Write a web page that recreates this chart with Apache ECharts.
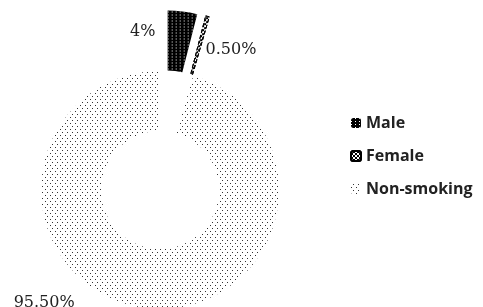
<!DOCTYPE html>
<html>
<head>
<meta charset="utf-8">
<script src="https://cdn.jsdelivr.net/npm/echarts@6/dist/echarts.min.js"></script>
<style>
  html, body { margin: 0; padding: 0; background: #fff; }
  #mychart { width: 483px; height: 307px; }
</style>
</head>
<body>
<div id="mychart"></div>
<script>
// data
const categories = ['Male', 'Female', 'Non-smoking'];
const shares = [4, 0.5, 95.5];
const labelTexts = ['4%', '0.50%', '95.50%'];

// pattern fills, one per slice
const looks = [
  { color: '#000', decal: { symbol: 'rect', symbolSize: 1, color: '#fff', dashArrayX: [1, 3], dashArrayY: [1, 2] } },
  { color: '#fff', decal: { symbol: 'rect', symbolSize: 1, color: '#000', dashArrayX: [[2, 2], [0, 2, 2, 0]], dashArrayY: [2, 0] } },
  { color: '#fff', decal: { symbol: 'rect', symbolSize: 1, color: '#333', dashArrayX: [[1, 4], [0, 2, 1, 2]], dashArrayY: [1, 2] } }
];
// nudges so the labels sit where the original put them
const labelShift = [[-58, 24], [-8, 37], [-63, -9]];

let myChart = echarts.init(document.getElementById('mychart'));

let pieData = categories.map((name, i) => ({
  name: name,
  value: shares[i],
  selected: i < 2,
  itemStyle: Object.assign({}, looks[i], i === 1 ? { borderColor: '#000', borderType: 'dashed', borderWidth: 1 } : {}),
  label: { formatter: labelTexts[i] }
}));

let option = {
  backgroundColor: '#fff',
  animation: false,
  legend: {
    orient: 'vertical',
    left: 345,
    top: 110,
    itemWidth: 10,
    itemHeight: 10,
    itemGap: 17,
    data: categories,
    textStyle: { fontFamily: 'Open Sans', fontSize: 16, fontWeight: 'bold', color: '#222' }
  },
  series: [{
    type: 'pie',
    center: [160, 190],
    radius: [59, 119],
    startAngle: 90,
    selectedMode: 'multiple',
    selectedOffset: 61,
    avoidLabelOverlap: false,
    emphasis: { disabled: true },
    label: {
      show: true,
      position: 'outside',
      fontFamily: 'DejaVu Serif',
      fontSize: 16,
      color: '#222'
    },
    labelLine: { show: false, length: 4, length2: 0 },
    labelLayout: function (params) {
      return { dx: labelShift[params.dataIndex][0], dy: labelShift[params.dataIndex][1] };
    },
    data: pieData
  }]
};

myChart.setOption(option, true);
</script>
</body>
</html>
